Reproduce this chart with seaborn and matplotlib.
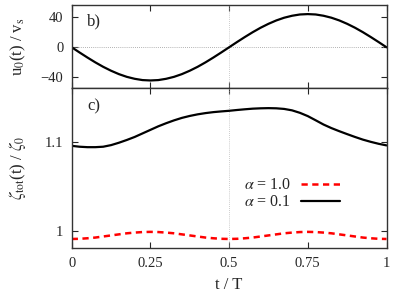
import numpy as np
import pandas as pd
import matplotlib
matplotlib.use("Agg")
import matplotlib.pyplot as plt
import seaborn as sns

# time axis (t / T)
t = [0.000, 0.025, 0.050, 0.075, 0.100, 0.125, 0.150, 0.175, 0.200, 0.225,
     0.250, 0.275, 0.300, 0.325, 0.350, 0.375, 0.400, 0.425, 0.450, 0.475,
     0.500, 0.525, 0.550, 0.575, 0.600, 0.625, 0.650, 0.675, 0.700, 0.725,
     0.750, 0.775, 0.800, 0.825, 0.850, 0.875, 0.900, 0.925, 0.950, 0.975,
     1.000]

# panel b) u0(t) / vs
u0 = [0.0, -6.9, -13.6, -20.0, -25.9, -31.1, -35.6, -39.2, -41.8, -43.5,
      -44.0, -43.5, -41.8, -39.2, -35.6, -31.1, -25.9, -20.0, -13.6, -6.9,
      0.0, 6.9, 13.6, 20.0, 25.9, 31.1, 35.6, 39.2, 41.8, 43.5,
      44.0, 43.5, 41.8, 39.2, 35.6, 31.1, 25.9, 20.0, 13.6, 6.9,
      0.0]

# panel c) zeta_tot(t) / zeta_0, alpha = 1.0
zeta_a10 = [0.9910, 0.9912, 0.9918, 0.9926, 0.9938, 0.9950, 0.9962, 0.9974,
            0.9982, 0.9988, 0.9990, 0.9988, 0.9982, 0.9974, 0.9962, 0.9950,
            0.9938, 0.9926, 0.9918, 0.9912, 0.9910, 0.9912, 0.9918, 0.9926,
            0.9938, 0.9950, 0.9962, 0.9974, 0.9982, 0.9988, 0.9990, 0.9988,
            0.9982, 0.9974, 0.9962, 0.9950, 0.9938, 0.9926, 0.9918, 0.9912,
            0.9910]

# panel c) zeta_tot(t) / zeta_0, alpha = 0.1
zeta_a01 = [1.0960, 1.0950, 1.0945, 1.0945, 1.0950, 1.0968, 1.0995, 1.1026,
            1.1060, 1.1100, 1.1140, 1.1180, 1.1215, 1.1247, 1.1275, 1.1297,
            1.1315, 1.1329, 1.1340, 1.1348, 1.1355, 1.1364, 1.1372, 1.1379,
            1.1383, 1.1385, 1.1383, 1.1376, 1.1360, 1.1332, 1.1295, 1.1248,
            1.1200, 1.1160, 1.1125, 1.1092, 1.1060, 1.1030, 1.1005, 1.0983,
            1.0965]

sns.set_style("ticks")
plt.rcParams["font.family"] = ["Liberation Serif", "DejaVu Serif"]
plt.rcParams["mathtext.fontset"] = "stix"
plt.rcParams["font.size"] = 10
plt.rcParams["xtick.direction"] = "in"
plt.rcParams["ytick.direction"] = "in"
plt.rcParams["axes.edgecolor"] = "#333333"
plt.rcParams["axes.linewidth"] = 1.0

df = pd.DataFrame({"t": t, "u0": u0, "a10": zeta_a10, "a01": zeta_a01})

fig = plt.figure(figsize=(3.95, 2.97), dpi=100)
ax1 = fig.add_axes([0.1815, 0.7037, 0.797, 0.2793])
ax2 = fig.add_axes([0.1815, 0.164, 0.797, 0.5397])

# top panel
ax1.axhline(0, color="#999999", lw=0.6, ls=(0, (1, 1.5)))
ax1.axvline(0.5, color="#bbbbbb", lw=0.6, ls=(0, (1, 1.5)))
sns.lineplot(data=df, x="t", y="u0", ax=ax1, color="black", lw=1.6)
ax1.set_xlim(0, 1)
ax1.set_ylim(-54, 56)
ax1.set_yticks([-40, 0, 40])
ax1.set_xticks([0, 0.25, 0.5, 0.75, 1])
ax1.set_xticklabels([])
ax1.set_xlabel("")
ax1.set_ylabel(r"u$_0$(t) / v$_\mathrm{s}$", fontsize=12)
ax1.text(0.05, 0.76, "b)", transform=ax1.transAxes, fontsize=12)

# bottom panel
ax2.axvline(0.5, color="#bbbbbb", lw=0.6, ls=(0, (1, 1.5)))
sns.lineplot(data=df, x="t", y="a10", ax=ax2, color="red", lw=1.8,
             ls=(0, (2.5, 1.8)), label=r"$\alpha$ = 1.0")
sns.lineplot(data=df, x="t", y="a01", ax=ax2, color="black", lw=1.6,
             label=r"$\alpha$ = 0.1")
ax2.set_xlim(0, 1)
ax2.set_ylim(0.9805, 1.1612)
ax2.set_yticks([1.0, 1.1])
ax2.set_yticklabels(["1", "1.1"])
ax2.set_xticks([0, 0.25, 0.5, 0.75, 1])
ax2.set_xticklabels(["0", "0.25", "0.5", "0.75", "1"])
ax2.set_xlabel("t / T", fontsize=12, labelpad=5)
ax2.set_ylabel(r"$\zeta_\mathrm{tot}$(t) / $\zeta_0$", fontsize=12)
ax2.text(0.05, 0.86, "c)", transform=ax2.transAxes, fontsize=12)
ax2.legend(loc="center", bbox_to_anchor=(0.7, 0.34), frameon=False,
           markerfirst=False, fontsize=11.5, handlelength=2.5,
           labelspacing=0.05, handletextpad=0.6)

for ax in (ax1, ax2):
    ax.tick_params(top=True, right=True, length=4, width=0.8, labelsize=10.5,
                   pad=6)
    ax.yaxis.set_label_coords(-0.14, 0.5)

fig.savefig("out.png", dpi=100)
